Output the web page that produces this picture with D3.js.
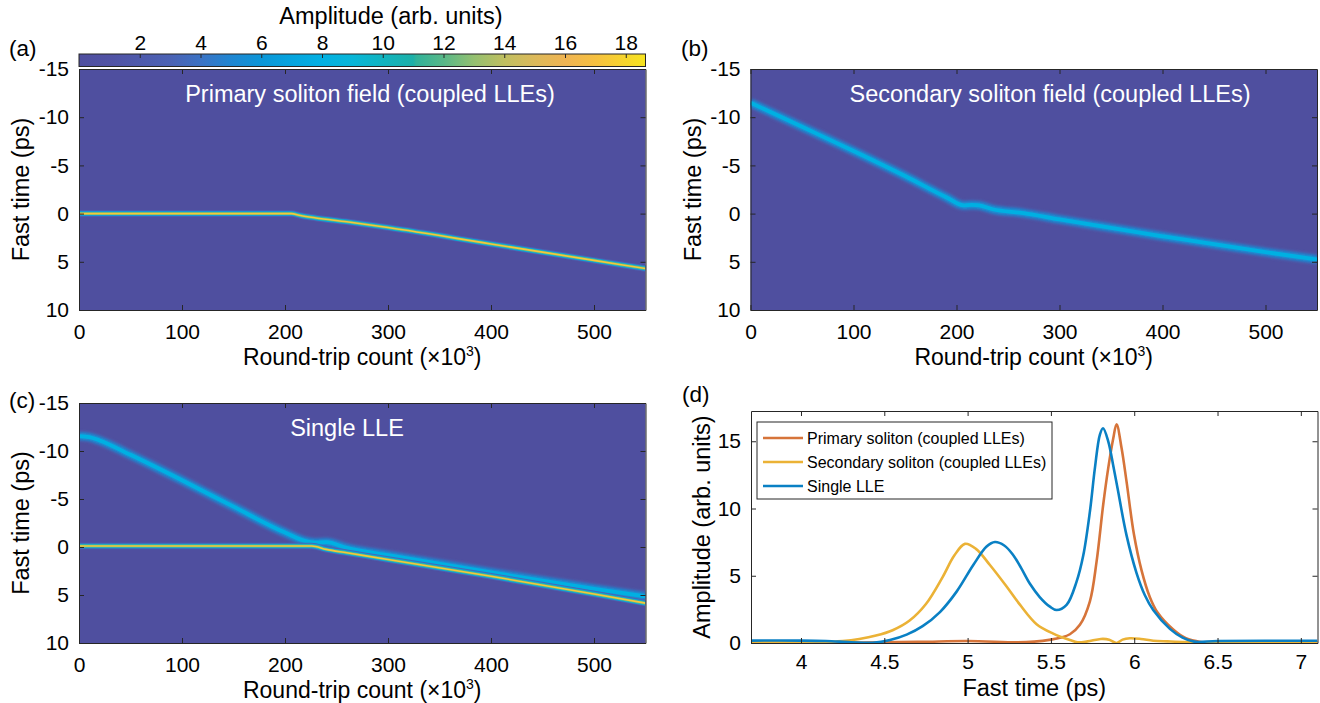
<!DOCTYPE html>
<html><head><meta charset="utf-8">
<script src="https://cdn.jsdelivr.net/npm/d3@7"></script>
<style>
body{margin:0;background:#fff;}
svg{display:block;}
text{font-family:"Liberation Sans",Arial,Helvetica,sans-serif;fill:#000;}
</style>
</head><body>
<svg id="fig" width="1320" height="703"></svg>
<script>
// ---------------- data ----------------
const roundTripTicks = [0, 100, 200, 300, 400, 500];
const fastTimeTicks = [-15, -10, -5, 0, 5, 10];
const colorbarTicks = [2, 4, 6, 8, 10, 12, 14, 16, 18];
const amplitudeTicks = [0, 5, 10, 15];
const fastTimeTicksD = [4, 4.5, 5, 5.5, 6, 6.5, 7];

// colormap stops (amplitude -> colour)
const cmapStops = [0, 1, 3, 4, 5, 6, 7, 8, 9, 10, 11, 11.1, 12, 13, 14, 15, 16, 17, 18.65];
const cmapColors = ["#4f4f9f", "#5052a4", "#4b62b4", "#3b72c4", "#1f86d2", "#0b96d8", "#05a4de", "#02b0e2",
  "#08b6d8", "#10b4c0", "#1cb0a8", "#30b29a", "#58b888", "#94c070", "#c0bf60", "#dcb95a", "#f0b452", "#f6c040", "#f7e41e"];

// (a) primary soliton trajectory (round trips x1e3, fast time ps)
const aPrimaryRT = [0, 206, 215, 230, 260, 300, 400, 500, 550];
const aPrimaryT  = [0, 0, 0.2, 0.45, 0.85, 1.45, 3.15, 4.85, 5.7];
// (b) secondary soliton trajectory
const bSecondaryRT = [0, 50, 100, 150, 190, 207, 215, 222, 235, 265, 300, 400, 500, 550];
const bSecondaryT  = [-11.5, -9.0, -6.5, -3.9, -1.7, -0.85, -0.9, -0.85, -0.45, -0.05, 0.6, 2.35, 4.0, 4.75];
// (c) single LLE: upper (wide) and lower (narrow) soliton trajectories
const cUpperRT = [0, 10, 20, 50, 100, 150, 200, 222, 230, 240, 260, 300, 400, 500, 550];
const cUpperT  = [-11.55, -11.45, -11.1, -9.6, -6.95, -4.2, -1.5, -0.55, -0.45, -0.5, 0.1, 0.85, 2.65, 4.35, 5.15];
const cLowerRT = [0, 226, 240, 260, 300, 400, 500, 550];
const cLowerT  = [-0.1, -0.1, 0.25, 0.6, 1.3, 3.05, 4.9, 5.85];

// (d) amplitude profiles
const primaryT = [3.7, 4.2, 4.7, 5.0, 5.3, 5.4, 5.5, 5.56, 5.614, 5.674, 5.734, 5.774, 5.814, 5.844, 5.874, 5.894, 5.924, 5.954, 5.998, 6.044, 6.094, 6.138, 6.234, 6.31, 6.4, 6.5, 7.1];
const primaryA = [0.03, 0.03, 0.08, 0.15, 0.05, 0.1, 0.25, 0.4, 0.65, 1.35, 3.1, 6.05, 10.3, 13.0, 15.2, 16.27, 14.5, 12.0, 8.1, 5.4, 3.4, 2.3, 1.0, 0.35, 0.08, 0.03, 0.03];
const secondaryT = [3.7, 4.1, 4.25, 4.35, 4.45, 4.55, 4.65, 4.75, 4.85, 4.92, 4.984, 5.05, 5.134, 5.234, 5.314, 5.414, 5.514, 5.614, 5.66, 5.72, 5.80, 5.85, 5.894, 5.93, 5.974, 6.04, 6.114, 6.2, 6.31, 6.5, 7.1];
const secondaryA = [0.07, 0.07, 0.15, 0.3, 0.55, 0.95, 1.65, 2.9, 4.9, 6.5, 7.37, 7.0, 5.8, 4.2, 2.85, 1.4, 0.7, 0.22, 0.05, 0.12, 0.3, 0.25, 0.0, 0.25, 0.35, 0.3, 0.17, 0.12, 0.07, 0.05, 0.05];
const singleT = [3.7, 4.0, 4.15, 4.3, 4.43, 4.534, 4.634, 4.73, 4.834, 4.934, 5.034, 5.114, 5.164, 5.22, 5.27, 5.32, 5.374, 5.434, 5.494, 5.534, 5.594, 5.654, 5.694, 5.734, 5.764, 5.794, 5.813, 5.844, 5.874, 5.9, 5.954, 6.014, 6.064, 6.114, 6.214, 6.29, 6.36, 6.5, 7.1];
const singleA = [0.18, 0.18, 0.15, 0.06, 0.02, 0.22, 0.62, 1.25, 2.3, 3.82, 5.8, 7.17, 7.51, 7.25, 6.6, 5.6, 4.4, 3.4, 2.7, 2.45, 2.83, 4.56, 6.5, 9.77, 13.0, 15.5, 15.97, 15.0, 13.2, 11.5, 8.0, 5.2, 3.55, 2.45, 1.05, 0.4, 0.1, 0.15, 0.17];

const legendNames = ["Primary soliton (coupled LLEs)", "Secondary soliton (coupled LLEs)", "Single LLE"];
const lineColors = ["#d6743a", "#ebb236", "#0a80c4"];

// ---------------- drawing ----------------
const svg = d3.select("#fig");
const cmap = d3.scaleLinear().domain(cmapStops).range(cmapColors).clamp(true);
const AX = "#262626";
const TICK_FS = 21, TITLE_FS = 23;

const defs = svg.append("defs");
defs.append("filter").attr("id", "blurW")
  .attr("filterUnits", "userSpaceOnUse").attr("x", 0).attr("y", 0).attr("width", 1320).attr("height", 703)
  .append("feGaussianBlur").attr("stdDeviation", 1.4);
defs.append("filter").attr("id", "blurS")
  .attr("filterUnits", "userSpaceOnUse").attr("x", 0).attr("y", 0).attr("width", 1320).attr("height", 703)
  .append("feGaussianBlur").attr("stdDeviation", 0.6);

function styleAxis(g) {
  g.selectAll("path.domain").attr("stroke", AX).attr("stroke-width", 1);
  g.selectAll(".tick line").attr("stroke", AX).attr("stroke-width", 1);
  g.selectAll(".tick text").attr("font-size", TICK_FS).attr("fill", "#000")
    .attr("font-family", '"Liberation Sans",Arial,sans-serif');
}

function drawAxes(g, x, y, box, xTicks, yTicks, xFmt, yFmt) {
  const gb = g.append("g").attr("transform", `translate(0,${box.b})`)
    .call(d3.axisBottom(x).tickValues(xTicks).tickFormat(xFmt).tickSizeInner(-5).tickSizeOuter(0).tickPadding(box.xpad || 14));
  const gt = g.append("g").attr("transform", `translate(0,${box.t})`)
    .call(d3.axisTop(x).tickValues(xTicks).tickFormat("").tickSizeInner(-5).tickSizeOuter(0));
  const gl = g.append("g").attr("transform", `translate(${box.l},0)`)
    .call(d3.axisLeft(y).tickValues(yTicks).tickFormat(yFmt).tickSizeInner(-5).tickSizeOuter(0).tickPadding(10));
  const gr = g.append("g").attr("transform", `translate(${box.r},0)`)
    .call(d3.axisRight(y).tickValues(yTicks).tickFormat("").tickSizeInner(-5).tickSizeOuter(0));
  [gb, gt, gl, gr].forEach(styleAxis);
}

function trace(g, x, y, rt, ft, layers) {
  const pts = rt.map((d, i) => [d, ft[i]]);
  const line = d3.line().x(d => x(d[0])).y(d => y(d[1])).curve(d3.curveMonotoneX);
  layers.forEach(L => {
    g.append("path").datum(pts).attr("d", line).attr("fill", "none")
      .attr("stroke", cmap(L.amp)).attr("stroke-width", L.w).attr("stroke-linecap", "butt")
      .attr("stroke-opacity", L.op == null ? 1 : L.op)
      .attr("filter", L.f ? `url(#${L.f})` : null);
  });
}

const narrowLayers = [{amp: 3, w: 6.5, f: "blurS", op: 0.9}, {amp: 7.5, w: 4.5, f: "blurS"}, {amp: 12, w: 3}, {amp: 17.3, w: 1.6}];
const wideLayers = [{amp: 3.5, w: 9.5, f: "blurW", op: 0.9}, {amp: 6, w: 6.5, f: "blurW"}, {amp: 8, w: 3.8, f: "blurS"}];

function heatPanel(id, box, traces, title, titleX) {
  const g = svg.append("g");
  const x = d3.scaleLinear().domain([0, 550]).range([box.l, box.r]);
  const y = d3.scaleLinear().domain([-15, 10]).range([box.t, box.b]);
  defs.append("clipPath").attr("id", "clip" + id).append("rect")
    .attr("x", box.l).attr("y", box.t).attr("width", box.r - box.l).attr("height", box.b - box.t);
  g.append("rect").attr("x", box.l).attr("y", box.t).attr("width", box.r - box.l).attr("height", box.b - box.t)
    .attr("fill", cmap(0));
  const gc = g.append("g").attr("clip-path", `url(#clip${id})`);
  traces.forEach(t => trace(gc, x, y, t.rt, t.ft, t.layers));
  g.append("text").attr("x", titleX).attr("y", box.t + 33).attr("text-anchor", "middle")
    .attr("font-size", 23.5).style("fill", "#fff").text(title);
  drawAxes(g, x, y, box, roundTripTicks, fastTimeTicks, d3.format("d"), d => d3.format("d")(d).replace("−", "-"));
  const xl = g.append("text").attr("x", (box.l + box.r) / 2).attr("y", box.b + 55).attr("text-anchor", "middle").attr("font-size", TITLE_FS);
  xl.append("tspan").text("Round-trip count (×10");
  xl.append("tspan").attr("font-size", 14).attr("dy", -9).text("3");
  xl.append("tspan").attr("dy", 9).text(")");
  g.append("text").attr("transform", `translate(${box.l - 50},${(box.t + box.b) / 2}) rotate(-90)`)
    .attr("text-anchor", "middle").attr("font-size", 23.5).text("Fast time (ps)");
}

// panel (a)
const boxA = {l: 79, r: 645.5, t: 69, b: 310};
heatPanel("a", boxA, [{rt: aPrimaryRT, ft: aPrimaryT, layers: narrowLayers}], "Primary soliton field (coupled LLEs)", 370);
// panel (b)
const boxB = {l: 750.5, r: 1317, t: 69, b: 310};
heatPanel("b", boxB, [{rt: bSecondaryRT, ft: bSecondaryT, layers: wideLayers}], "Secondary soliton field (coupled LLEs)", 1050);
// panel (c)
const boxC = {l: 79, r: 645.5, t: 403, b: 643};
heatPanel("c", boxC, [{rt: cUpperRT, ft: cUpperT, layers: wideLayers}, {rt: cLowerRT, ft: cLowerT, layers: narrowLayers}], "Single LLE", 347);

// colorbar
(function () {
  const cb = {l: 79, r: 645.5, t: 54, b: 66.5};
  const cx = d3.scaleLinear().domain([0, 18.65]).range([cb.l, cb.r]);
  const grad = defs.append("linearGradient").attr("id", "cbgrad").attr("x1", "0%").attr("x2", "100%");
  cmapStops.forEach((s, i) => grad.append("stop").attr("offset", (s / 18.65 * 100) + "%").attr("stop-color", cmapColors[i]));
  svg.append("rect").attr("x", cb.l).attr("y", cb.t).attr("width", cb.r - cb.l).attr("height", cb.b - cb.t)
    .attr("fill", "url(#cbgrad)").attr("stroke", AX).attr("stroke-width", 1);
  const ga = svg.append("g").attr("transform", `translate(0,${cb.t})`)
    .call(d3.axisTop(cx).tickValues(colorbarTicks).tickFormat(d3.format("d")).tickSizeInner(-4).tickSizeOuter(0).tickPadding(4));
  styleAxis(ga);
  ga.select("path.domain").remove();
  svg.append("text").attr("x", 391).attr("y", 24).attr("text-anchor", "middle").attr("font-size", 23.5).text("Amplitude (arb. units)");
})();

// panel (d)
(function () {
  const box = {l: 751, r: 1317.5, t: 411, b: 643, xpad: 11};
  const x = d3.scaleLinear().domain([3.7, 7.1]).range([box.l, box.r]);
  const y = d3.scaleLinear().domain([0, 17.25]).range([box.b, box.t]);
  const g = svg.append("g");
  g.append("rect").attr("x", box.l).attr("y", box.t).attr("width", box.r - box.l).attr("height", box.b - box.t).attr("fill", "#fff");
  defs.append("clipPath").attr("id", "clipd").append("rect")
    .attr("x", box.l).attr("y", box.t).attr("width", box.r - box.l).attr("height", box.b - box.t);
  const gc = g.append("g").attr("clip-path", "url(#clipd)");
  const series = [[primaryT, primaryA], [secondaryT, secondaryA], [singleT, singleA]];
  const line = d3.line().x(d => x(d[0])).y(d => y(Math.max(0, d[1]))).curve(d3.curveCatmullRom.alpha(0.5));
  series.forEach((s, i) => {
    const pts = s[0].map((t, k) => [t, s[1][k]]);
    gc.append("path").datum(pts).attr("d", line).attr("fill", "none")
      .attr("stroke", lineColors[i]).attr("stroke-width", 2.6).attr("stroke-linejoin", "round");
  });
  drawAxes(g, x, y, box, fastTimeTicksD, amplitudeTicks, d => String(d), d3.format("d"));
  g.append("text").attr("x", (box.l + box.r) / 2).attr("y", box.b + 53).attr("text-anchor", "middle").attr("font-size", 23.5).text("Fast time (ps)");
  g.append("text").attr("transform", `translate(${box.l - 41},${(box.t + box.b) / 2}) rotate(-90)`)
    .attr("text-anchor", "middle").attr("font-size", 23.5).text("Amplitude (arb. units)");
  // legend
  const lg = g.append("g");
  lg.append("rect").attr("x", 757).attr("y", 422).attr("width", 295).attr("height", 77)
    .attr("fill", "#fff").attr("stroke", AX).attr("stroke-width", 1);
  legendNames.forEach((n, i) => {
    const yy = 438 + i * 24;
    lg.append("line").attr("x1", 763).attr("x2", 803).attr("y1", yy).attr("y2", yy)
      .attr("stroke", lineColors[i]).attr("stroke-width", 2.6);
    lg.append("text").attr("x", 807).attr("y", yy).attr("dy", "0.35em").attr("font-size", 16).text(n);
  });
})();

// panel labels
[["(a)", 9, 56], ["(b)", 681, 56], ["(c)", 9, 408], ["(d)", 682, 402]].forEach(p => {
  svg.append("text").attr("x", p[1]).attr("y", p[2]).attr("font-size", 22.5).text(p[0]);
});
</script>
</body></html>
